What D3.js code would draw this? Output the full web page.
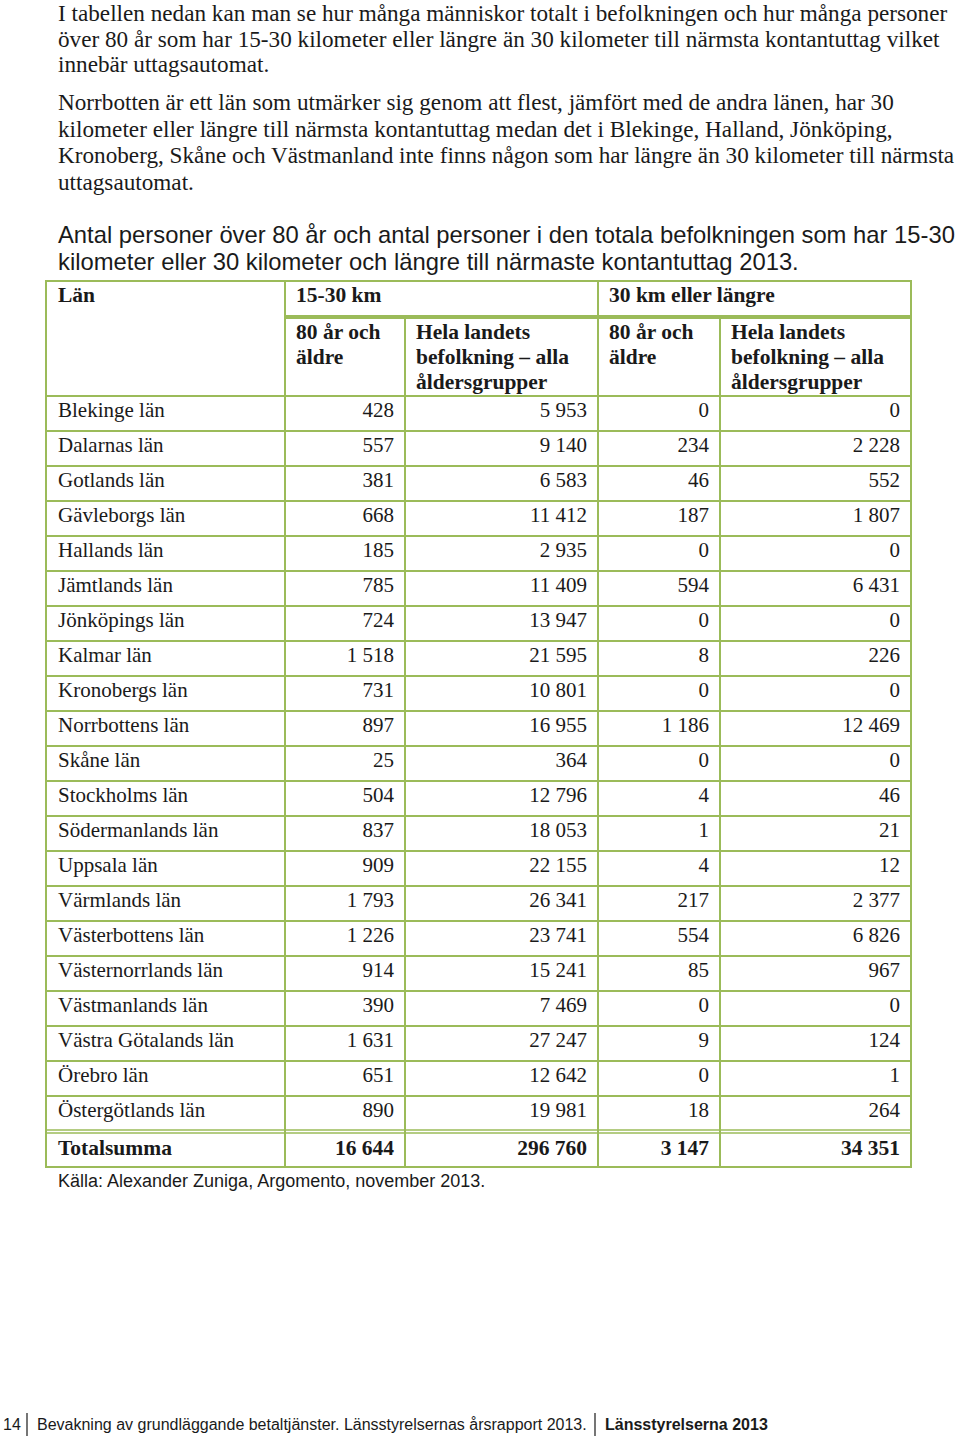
<!DOCTYPE html>
<html>
<head>
<meta charset="utf-8">
<script src="https://cdn.jsdelivr.net/npm/d3@7"></script>
<style>
  html, body { margin: 0; padding: 0; background: #fff; }
  svg { display: block; }
</style>
</head>
<body>
<script>
/* ---- data ------------------------------------------------------- */
const introLines = [
  "I tabellen nedan kan man se hur många människor totalt i befolkningen och hur många personer",
  "över 80 år som har 15-30 kilometer eller längre än 30 kilometer till närmsta kontantuttag vilket",
  "innebär uttagsautomat."
];
const noteLines = [
  "Norrbotten är ett län som utmärker sig genom att flest, jämfört med de andra länen, har 30",
  "kilometer eller längre till närmsta kontantuttag medan det i Blekinge, Halland, Jönköping,",
  "Kronoberg, Skåne och Västmanland inte finns någon som har längre än 30 kilometer till närmsta",
  "uttagsautomat."
];
const titleLines = [
  "Antal personer över 80 år och antal personer i den totala befolkningen som har 15-30",
  "kilometer eller 30 kilometer och längre till närmaste kontantuttag 2013."
];

const groupLabels = ["15-30 km", "30 km eller längre"];
const subLabels = [
  ["80 år och", "äldre"],
  ["Hela landets", "befolkning – alla", "åldersgrupper"],
  ["80 år och", "äldre"],
  ["Hela landets", "befolkning – alla", "åldersgrupper"]
];

const lan = [
  "Blekinge län", "Dalarnas län", "Gotlands län", "Gävleborgs län", "Hallands län",
  "Jämtlands län", "Jönköpings län", "Kalmar län", "Kronobergs län", "Norrbottens län",
  "Skåne län", "Stockholms län", "Södermanlands län", "Uppsala län", "Värmlands län",
  "Västerbottens län", "Västernorrlands län", "Västmanlands län", "Västra Götalands län",
  "Örebro län", "Östergötlands län"
];
const aldre1530  = [428, 557, 381, 668, 185, 785, 724, 1518, 731, 897, 25, 504, 837, 909, 1793, 1226, 914, 390, 1631, 651, 890];
const alla1530   = [5953, 9140, 6583, 11412, 2935, 11409, 13947, 21595, 10801, 16955, 364, 12796, 18053, 22155, 26341, 23741, 15241, 7469, 27247, 12642, 19981];
const aldre30    = [0, 234, 46, 187, 0, 594, 0, 8, 0, 1186, 0, 4, 1, 4, 217, 554, 85, 0, 9, 0, 18];
const alla30     = [0, 2228, 552, 1807, 0, 6431, 0, 226, 0, 12469, 0, 46, 21, 12, 2377, 6826, 967, 0, 124, 1, 264];
const totalLabel = "Totalsumma";
const totals     = [16644, 296760, 3147, 34351];

const sourceText = "Källa: Alexander Zuniga, Argomento, november 2013.";
const footerPage = "14";
const footerDoc  = "Bevakning av grundläggande betaltjänster. Länsstyrelsernas årsrapport 2013.";
const footerOrg  = "Länsstyrelserna 2013";

/* ---- setup ------------------------------------------------------ */
const W = 960, H = 1438;
const serif = "'Liberation Serif', 'Times New Roman', serif";
const sans  = "'Liberation Sans', Arial, sans-serif";
const green = "#9bbb59";
const ink   = "#1a1a1a";
const cellSize = 21, headSize = 21.5;

const fmt = d3.formatLocale({ decimal: ",", thousands: " ", grouping: [3], currency: ["", ""] }).format(",d");

const svg = d3.select("body").append("svg")
  .attr("width", W).attr("height", H);

/* ---- running text ---------------------------------------------- */
function para(lines, y0, step, font, size) {
  svg.append("g").selectAll("text")
    .data(lines)
    .join("text")
      .attr("x", 58)
      .attr("y", (d, i) => y0 + i * step)
      .attr("font-family", font)
      .attr("font-size", size)
      .attr("fill", ink)
      .text(d => d);
}
para(introLines, 21, 25.5, serif, 23.2);
para(noteLines, 110, 26.7, serif, 23.2);
para(titleLines, 243, 27, sans, 23.8);

/* ---- table geometry -------------------------------------------- */
const colEdges = [46, 285, 405, 598, 720, 911];
const tTop = 281, groupBottom = 317, headBottom = 396, bodyBottom = 1131, totalBottom = 1167;

const y = d3.scaleBand().domain(lan).range([headBottom, bodyBottom]);
const series = [aldre1530, alla1530, aldre30, alla30];

const g = svg.append("g");

/* ---- header texts ---------------------------------------------- */
g.append("text")
  .attr("x", colEdges[0] + 12).attr("y", tTop + 21)
  .attr("font-family", serif).attr("font-size", headSize).attr("font-weight", "bold")
  .attr("fill", ink).text("Län");

g.selectAll(".grp")
  .data(groupLabels)
  .join("text")
    .attr("class", "grp")
    .attr("x", (d, i) => colEdges[1 + 2 * i] + 11)
    .attr("y", tTop + 21)
    .attr("font-family", serif).attr("font-size", headSize).attr("font-weight", "bold")
    .attr("fill", ink).text(d => d);

subLabels.forEach((lines, c) => {
  g.append("g").selectAll("text")
    .data(lines)
    .join("text")
      .attr("x", colEdges[c + 1] + 11)
      .attr("y", (d, i) => groupBottom + 22 + i * 25)
      .attr("font-family", serif).attr("font-size", headSize).attr("font-weight", "bold")
      .attr("fill", ink).text(d => d);
});

/* ---- body ------------------------------------------------------- */
const rows = g.append("g").selectAll("g")
  .data(lan)
  .join("g")
    .attr("transform", d => `translate(0,${y(d)})`);

rows.append("text")
  .attr("x", colEdges[0] + 12).attr("y", 21)
  .attr("font-family", serif).attr("font-size", cellSize)
  .attr("fill", ink).text(d => d);

series.forEach((vals, c) => {
  rows.append("text")
    .attr("x", colEdges[c + 2] - 11).attr("y", 21)
    .attr("text-anchor", "end")
    .attr("font-family", serif).attr("font-size", cellSize)
    .attr("fill", ink).text((d, i) => fmt(vals[i]));
});

/* ---- total row -------------------------------------------------- */
const tot = g.append("g").attr("transform", `translate(0,${bodyBottom + 2})`);
tot.append("text")
  .attr("x", colEdges[0] + 12).attr("y", 22)
  .attr("font-family", serif).attr("font-size", headSize).attr("font-weight", "bold")
  .attr("fill", ink).text(totalLabel);
tot.selectAll(".tv")
  .data(totals)
  .join("text")
    .attr("class", "tv")
    .attr("x", (d, i) => colEdges[i + 2] - 11).attr("y", 22)
    .attr("text-anchor", "end")
    .attr("font-family", serif).attr("font-size", headSize).attr("font-weight", "bold")
    .attr("fill", ink).text(d => fmt(d));

/* ---- grid lines ------------------------------------------------- */
const lines = g.append("g").attr("stroke", green).attr("stroke-width", 2);
const hl = (x1, x2, yy, w = 2) => lines.append("line")
  .attr("x1", x1).attr("x2", x2).attr("y1", yy).attr("y2", yy).attr("stroke-width", w);
const vl = (xx, y1, y2) => lines.append("line")
  .attr("x1", xx).attr("x2", xx).attr("y1", y1).attr("y2", y2);

hl(colEdges[0] - 1, colEdges[5] + 1, tTop);
hl(colEdges[1], colEdges[5] + 1, groupBottom, 4);
hl(colEdges[0] - 1, colEdges[5] + 1, headBottom);
lan.slice(1).forEach(d => hl(colEdges[0], colEdges[5], y(d)));
hl(colEdges[0] - 1, colEdges[5] + 1, bodyBottom - 1, 1.5);
hl(colEdges[0] - 1, colEdges[5] + 1, bodyBottom + 2, 1.5);
hl(colEdges[0] - 1, colEdges[5] + 1, totalBottom);

vl(colEdges[0], tTop, totalBottom);
vl(colEdges[1], tTop, totalBottom);
vl(colEdges[3], tTop, totalBottom);
vl(colEdges[5], tTop, totalBottom);
vl(colEdges[2], groupBottom, totalBottom);
vl(colEdges[4], groupBottom, totalBottom);

/* ---- source + footer ------------------------------------------- */
svg.append("text")
  .attr("x", 58).attr("y", 1187)
  .attr("font-family", sans).attr("font-size", 18)
  .attr("fill", ink).text(sourceText);

const foot = svg.append("g")
  .attr("font-family", sans).attr("font-size", 16).attr("fill", ink);
foot.append("text").attr("x", 3).attr("y", 1430).text(footerPage);
foot.append("text").attr("x", 37).attr("y", 1430).text(footerDoc);
foot.append("text").attr("x", 605).attr("y", 1430).attr("font-weight", "bold").text(footerOrg);
foot.selectAll("line")
  .data([27, 595])
  .join("line")
    .attr("x1", d => d).attr("x2", d => d)
    .attr("y1", 1413).attr("y2", 1436)
    .attr("stroke", ink).attr("stroke-width", 1.2);
</script>
</body>
</html>
